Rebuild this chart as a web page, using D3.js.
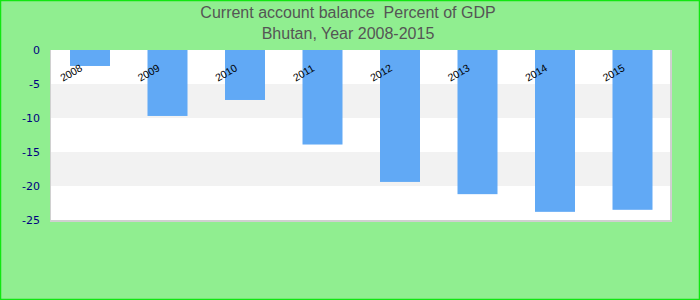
<html lang="en">
<head>
<meta charset="UTF-8">
<script src="https://d3js.org/d3.v7.min.js"></script>
<style>
  body { margin: 0; }
</style>
</head>
<body>
<div id="chart"></div>
<script>
// data
const years = ["2008", "2009", "2010", "2011", "2012", "2013", "2014", "2015"];
const balance = [-2.35, -9.7, -7.35, -13.9, -19.4, -21.2, -23.8, -23.5];
const yTicks = [0, -5, -10, -15, -20, -25];
const titleLines = ["Current account balance\u00a0\u00a0Percent of GDP", "Bhutan, Year 2008-2015"];

const width = 700, height = 300;

const svg = d3.select("#chart")
  .append("svg")
  .attr("width", width)
  .attr("height", height);

// background + outer border
svg.append("rect")
  .attr("x", 0.5).attr("y", 0.5)
  .attr("width", width - 1).attr("height", height - 1)
  .style("fill", "#90ee90")
  .style("stroke", "#11e611")
  .style("stroke-width", 1.5);

var x_scale = d3.scaleBand()
  .domain(years)
  .range([51.25, 671.25])
  .paddingInner(0.484)
  .paddingOuter(0.242);

var y_scale = d3.scaleLinear()
  .domain([-25, 0])
  .range([220, 50]);

// plot area
svg.append("rect")
  .attr("x", 50).attr("y", 50)
  .attr("width", 620).attr("height", 170)
  .style("fill", "#fff");

// alternating bands
const bands = [[-5, -10], [-15, -20]];
svg.append("g")
  .selectAll("rect")
  .data(bands)
  .enter()
  .append("rect")
    .attr("x", 50)
    .attr("width", 620)
    .attr("y", d => y_scale(d[0]))
    .attr("height", d => y_scale(d[1]) - y_scale(d[0]))
    .style("fill", "#f2f2f2");

// plot frame (shadow like)
svg.append("line")
  .attr("x1", 50.5).attr("x2", 50.5).attr("y1", 50).attr("y2", 222)
  .style("stroke", "#d0d0d0");
svg.append("line")
  .attr("x1", 671).attr("x2", 671).attr("y1", 50).attr("y2", 222)
  .style("stroke", "#d0d0d0").style("stroke-width", 2);
svg.append("line")
  .attr("x1", 50).attr("x2", 672).attr("y1", 221).attr("y2", 221)
  .style("stroke", "#d0d0d0").style("stroke-width", 2);

// bars
svg.append("g")
  .selectAll("rect")
  .data(years)
  .enter()
  .append("rect")
    .attr("x", d => x_scale(d))
    .attr("width", x_scale.bandwidth())
    .attr("y", y_scale(0))
    .attr("height", (d, i) => y_scale(balance[i]) - y_scale(0))
    .style("fill", "#61a9f5");

// y axis
var y_axis = d3.axisLeft(y_scale)
  .tickValues(yTicks)
  .tickSize(0)
  .tickPadding(0)
  .tickFormat(d => String(d));

const yg = svg.append("g")
  .attr("transform", "translate(40, 0)")
  .call(y_axis);
yg.select(".domain").remove();
yg.selectAll("text")
  .style("font-family", "DejaVu Sans")
  .style("font-size", "11px")
  .style("fill", "#000080");

// x labels, rotated, sitting near the zero line
svg.append("g")
  .selectAll("text")
  .data(years)
  .enter()
  .append("text")
    .attr("transform", d => `translate(${x_scale(d) + x_scale.bandwidth() / 2 - 17}, 76) rotate(-30)`)
    .attr("text-anchor", "middle")
    .style("font-family", "Liberation Sans, Arial")
    .style("font-size", "10.5px")
    .style("fill", "#000")
    .text(d => d);

// title
svg.append("g")
  .selectAll("text")
  .data(titleLines)
  .enter()
  .append("text")
    .attr("x", 348)
    .attr("y", (d, i) => 18 + i * 21)
    .attr("text-anchor", "middle")
    .style("font-family", "Liberation Sans, Arial")
    .style("font-size", "16px")
    .style("fill", "#555")
    .text(d => d);
</script>
</body>
</html>
